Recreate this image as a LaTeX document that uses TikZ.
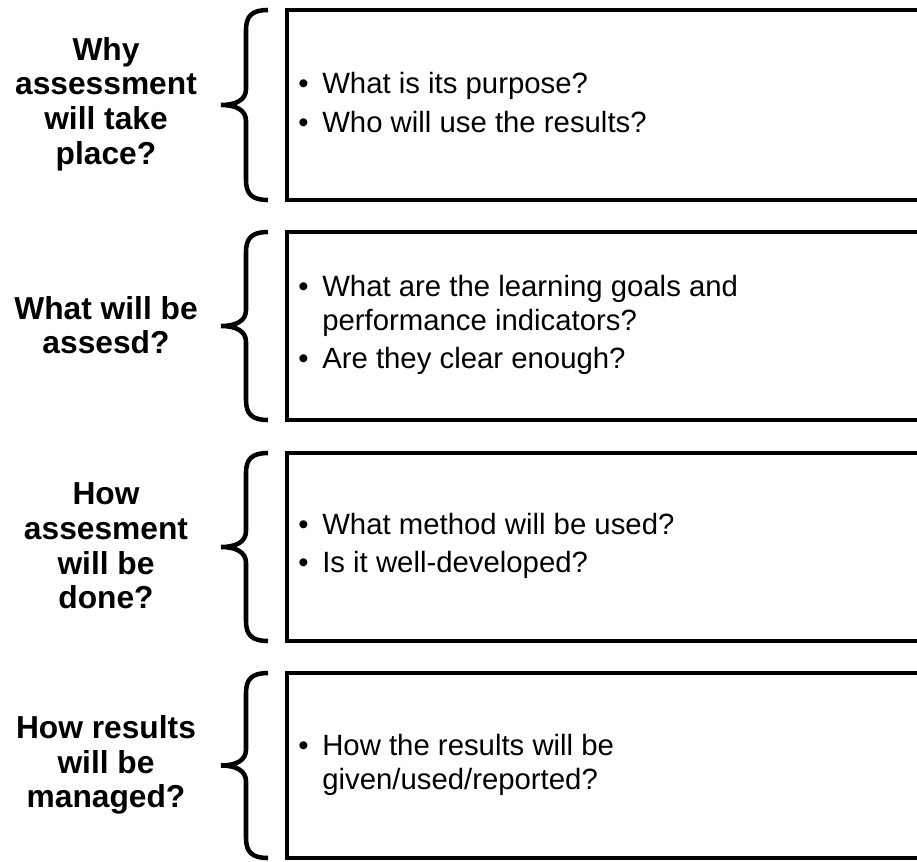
\documentclass[tikz,border=0pt]{standalone}
\usepackage{fontspec}
\setmainfont{Liberation Sans}
\newcommand\itemdot{\makebox[18pt][l]{•}}
\begin{document}
\begin{tikzpicture}[x=0.75pt,y=-0.75pt,
  frame/.style={line width=3.7pt},
  curly/.style={line width=3.4pt, line cap=butt},
  question/.style={font=\fontsize{23.8}{26}\selectfont\bfseries, align=center, inner sep=0pt},
  points/.style={font=\fontsize{22}{25.5}\selectfont, anchor=west, inner sep=0pt}]
\useasboundingbox (0,0) rectangle (917,861);
\begin{scope}
  \clip (0,0) rectangle (917,861);
  % one open box and one curly brace per question
  \foreach \T/\B in {10/200, 232/420, 453/641, 673/858}{
    \pgfmathsetmacro\M{(\T+\B)/2}
    \draw[frame] (287,\T) rectangle (940,\B);
    \draw[curly] (268,\T) .. controls (252,\T) and (246,\T+6) .. (246,\T+20)
      -- (246,\M-16) .. controls (246,\M-5) and (236,\M) .. (221,\M)
      .. controls (236,\M) and (246,\M+5) .. (246,\M+16)
      -- (246,\B-20) .. controls (246,\B-6) and (252,\B) .. (268,\B);
  }
\end{scope}

% questions on the left
\node[question] (q1) at (106,104) {Why\\assessment\\will take\\place?};
\node[question] (q2) at (106,325) {What will be\\assesd?};
\node[question] (q3) at (106,546) {How\\assesment\\will be\\done?};
\node[question] (q4) at (106,765) {How results\\will be\\managed?};

% points inside the boxes
\node[points] (p1) at (298,106) {\begin{tabular}{@{}l@{}l@{}}
  \itemdot & What is its purpose?\\[4pt]
  \itemdot & Who will use the results?
\end{tabular}};
\node[points] (p2) at (298,326) {\begin{tabular}{@{}l@{}l@{}}
  \itemdot & What are the learning goals and\\
           & performance indicators?\\[3pt]
  \itemdot & Are they clear enough?
\end{tabular}};
\node[points] (p3) at (298,547) {\begin{tabular}{@{}l@{}l@{}}
  \itemdot & What method will be used?\\[3pt]
  \itemdot & Is it well-developed?
\end{tabular}};
\node[points] (p4) at (298,766) {\begin{tabular}{@{}l@{}l@{}}
  \itemdot & How the results will be\\
           & given/used/reported?
\end{tabular}};
\end{tikzpicture}
\end{document}
